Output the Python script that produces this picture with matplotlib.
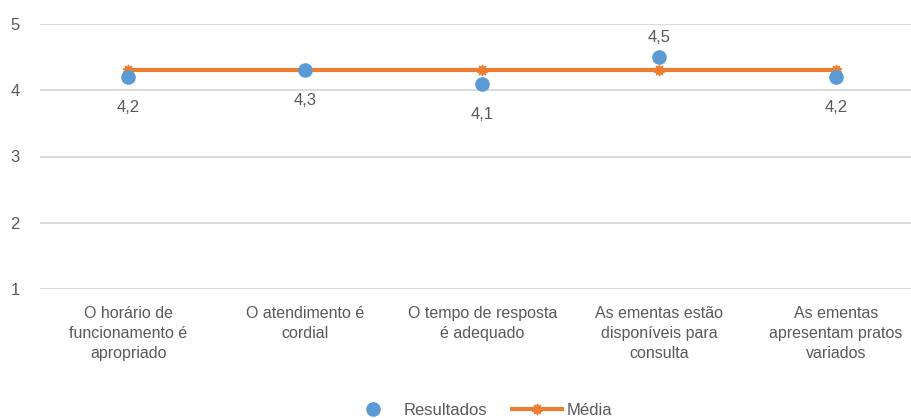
import matplotlib
matplotlib.use("Agg")
import matplotlib.pyplot as plt
from matplotlib import font_manager

categorias = ["O horário de\nfuncionamento é\napropriado",
              "O atendimento é\ncordial",
              "O tempo de resposta\né adequado",
              "As ementas estão\ndisponíveis para\nconsulta",
              "As ementas\napresentam pratos\nvariados"]
resultados = [4.2, 4.3, 4.1, 4.5, 4.2]
media = [4.3, 4.3, 4.3, 4.3, 4.3]
yticks = [1, 2, 3, 4, 5]

nomes = {f.name for f in font_manager.fontManager.ttflist}
fonte = "Liberation Sans Narrow" if "Liberation Sans Narrow" in nomes else "Liberation Sans"
plt.rcParams['font.family'] = [fonte, 'DejaVu Sans']

cinza = "#595959"
azul = "#5B9BD5"
laranja = "#ED7D31"

fig = plt.figure(figsize=(9.12, 4.18), dpi=100)
ax = fig.add_axes([40/912, 129/418, 884.5/912, 265/418])

x = list(range(len(categorias)))
ax.plot(x, media, color=laranja, lw=3, marker=(10, 1, 0), ms=8,
        mfc=laranja, mec=laranja, label="Média", zorder=3)
ax.plot(x, resultados, ls="none", marker="o", ms=9.5, color=azul,
        label="Resultados", zorder=4)

for xi, v in zip(x, resultados):
    if v > media[xi]:
        off = 14
    else:
        off = -22
    ax.annotate(str(v).replace(".", ","), (xi, v), xytext=(0, off),
                textcoords="offset points", ha="center", va="center",
                fontsize=12, color=cinza)

ax.set_xlim(-0.5, len(categorias) - 0.5)
ax.set_ylim(1, 5)
ax.set_yticks(yticks)
ax.set_xticks(x)
ax.set_xticklabels(categorias, fontsize=11.5, color=cinza, linespacing=1.45)
ax.tick_params(axis="y", labelsize=12, labelcolor=cinza, length=0, pad=14.5)
ax.tick_params(axis="x", length=0, pad=12)
ax.grid(axis="y", color="#d9d9d9", lw=1.3)
ax.set_axisbelow(True)
for s in ax.spines.values():
    s.set_visible(False)

h, l = ax.get_legend_handles_labels()
fig.legend(h[::-1], l[::-1], loc="lower center", bbox_to_anchor=(0.527, -0.035),
           ncol=2, frameon=False, fontsize=12, labelcolor=cinza,
           handlelength=3.0, handletextpad=0.3, columnspacing=1.5)

fig.savefig("out.png", dpi=100)
